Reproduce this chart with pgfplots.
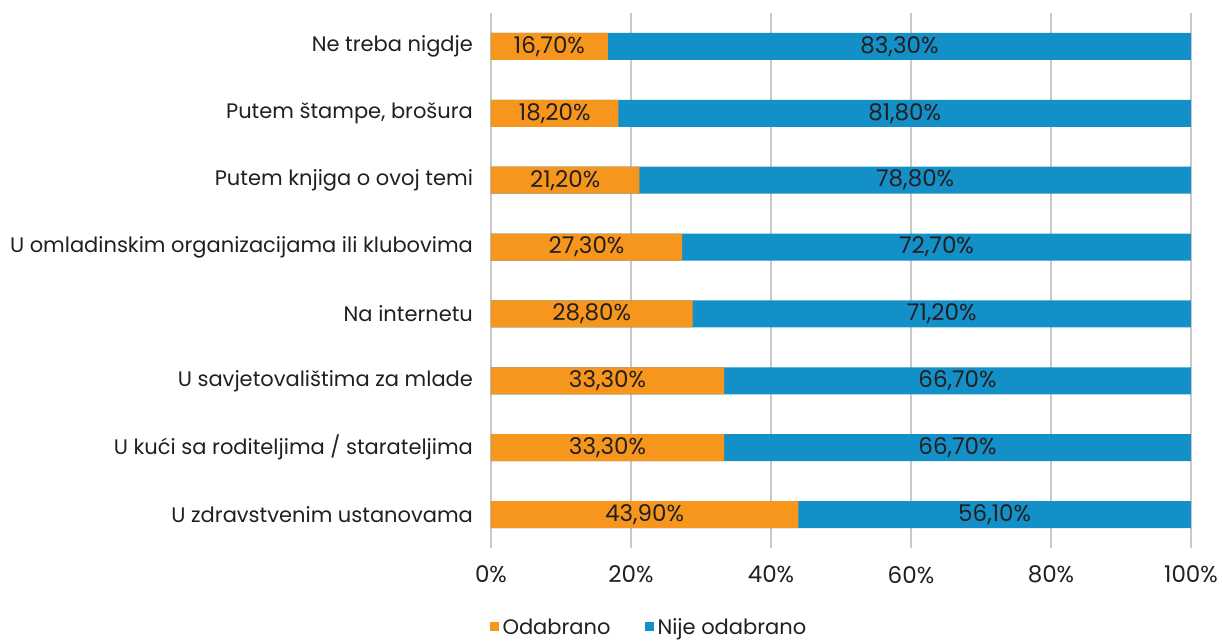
\documentclass[border=0pt]{standalone}
\usepackage{pgfplots}
\pgfplotsset{compat=1.18}
\usepackage{pgfplotstable}
\usepackage{fontspec}
\setmainfont{Poppins}
\definecolor{orangeC}{HTML}{F7961D}
\definecolor{blueC}{HTML}{1490C9}
\definecolor{txt}{HTML}{231F20}
\definecolor{gridC}{HTML}{C8C8C8}
\pgfplotstableread{
y a b
0 43.9 56.1
1 33.3 66.7
2 33.3 66.7
3 28.8 71.2
4 27.3 72.7
5 21.2 78.8
6 18.2 81.8
7 16.7 83.3
}\data
\begin{document}
\begin{tikzpicture}
\useasboundingbox (-245.5pt,-46.5pt) rectangle (365.5pt,274pt);
\begin{axis}[
  at={(0,0)}, anchor=south west,
  scale only axis, width=350pt, height=267.5pt,
  xmin=0, xmax=100, ymin=-0.5, ymax=7.5,
  xtick={0,20,...,100},
  xticklabel={\pgfmathprintnumber{\tick}\%},
  ytick={0,...,7},
  yticklabels={U zdravstvenim ustanovama, U kući sa roditeljima / starateljima, U savjetovalištima za mlade, Na internetu, U omladinskim organizacijama ili klubovima, Putem knjiga o ovoj temi, {Putem štampe, brošura}, Ne treba nigdje},
  /pgf/number format/assume math mode=true,
  font=\fontsize{10.5pt}{12pt}\selectfont,
  tick label style={text=txt},
  xticklabel style={yshift=-5.5pt, font=\fontsize{11.5pt}{13pt}\selectfont},
  yticklabel style={xshift=-5.5pt},
  xmajorgrids, major grid style={gridC, line width=0.6pt},
  axis line style={draw=none}, tick style={draw=none},
  legend style={at={(axis description cs:0.227,0)}, anchor=center, yshift=-40pt, draw=none, legend columns=2, font=\fontsize{10.5pt}{12pt}\selectfont, text=txt,
    /tikz/every even column/.append style={column sep=15pt}},
  legend cell align=left,
  legend image code/.code={\fill[#1] (0pt,-1.5pt) rectangle (4.5pt,3pt);},
]
\addplot[xbar, bar shift=0pt, bar width=13.5pt, fill=blueC, draw=none, forget plot] table[x expr=100, y=y] {\data};
\addplot[xbar, bar shift=0pt, bar width=13.5pt, fill=orangeC, draw=none, forget plot] table[x=a, y=y] {\data};
\addplot[draw=none, mark=none, forget plot, point meta=\thisrow{a},
  nodes near coords={\pgfmathprintnumber[fixed, fixed zerofill, precision=2, use comma]{\pgfplotspointmeta}\%},
  nodes near coords style={anchor=center, text=txt, font=\fontsize{11.5pt}{13pt}\selectfont}]
  table[x expr=\thisrow{a}/2, y=y] {\data};
\addplot[draw=none, mark=none, forget plot, point meta=\thisrow{b},
  nodes near coords={\pgfmathprintnumber[fixed, fixed zerofill, precision=2, use comma]{\pgfplotspointmeta}\%},
  nodes near coords style={anchor=center, text=txt, font=\fontsize{11.5pt}{13pt}\selectfont}]
  table[x expr=(\thisrow{a}+100)/2, y=y] {\data};
\addlegendimage{fill=orangeC, draw=none}
\addlegendentry{Odabrano}
\addlegendimage{fill=blueC, draw=none}
\addlegendentry{Nije odabrano}
\end{axis}
\end{tikzpicture}
\end{document}
